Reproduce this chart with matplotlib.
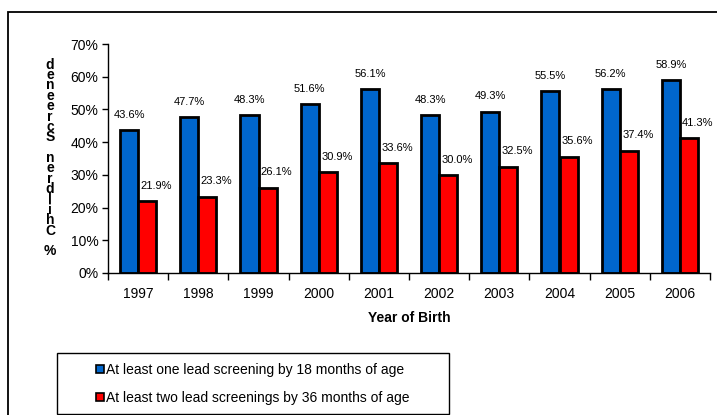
import numpy as np
import matplotlib.pyplot as plt
from matplotlib.patches import Rectangle
from matplotlib.lines import Line2D
from matplotlib.ticker import PercentFormatter

plt.rcParams['font.family'] = ['Liberation Sans', 'DejaVu Sans']

years = ['1997', '1998', '1999', '2000', '2001', '2002', '2003', '2004', '2005', '2006']
one_screen = [43.6, 47.7, 48.3, 51.6, 56.1, 48.3, 49.3, 55.5, 56.2, 58.9]
two_screen = [21.9, 23.3, 26.1, 30.9, 33.6, 30.0, 32.5, 35.6, 37.4, 41.3]
series_names = ['At least one lead screening by 18 months of age',
                'At least two lead screenings by 36 months of age']
blue = '#0066CC'
red = '#FF0000'

W, H = 717, 415
fig = plt.figure(figsize=(W / 100, H / 100), dpi=100)

# outer chart border (right/bottom run off the image)
fig.patches.append(Rectangle((8 / W, -0.05), 1.05, 1 - 12 / H + 0.05,
                             transform=fig.transFigure, fill=False,
                             edgecolor='black', linewidth=1.3))

ax = fig.add_axes([108 / W, 1 - 273 / H, (710 - 108) / W, (273 - 44) / H])
x = np.arange(len(years))
bw = 0.3
b1 = ax.bar(x - bw / 2, one_screen, bw, color=blue, edgecolor='black', linewidth=2)
b2 = ax.bar(x + bw / 2, two_screen, bw, color=red, edgecolor='black', linewidth=2)

for rect, v in zip(b1, one_screen):
    ax.annotate(f'{v:.1f}%', (rect.get_x() + rect.get_width() / 2, v),
                xytext=(0, 11), textcoords='offset points',
                ha='center', va='center', fontsize=8)
for rect, v in zip(b2, two_screen):
    ax.annotate(f'{v:.1f}%', (rect.get_x() + rect.get_width() / 2, v),
                xytext=(6.5, 11), textcoords='offset points',
                ha='center', va='center', fontsize=8)

ax.set_xlim(-0.5, len(years) - 0.5)
ax.set_ylim(0, 70)
ax.set_yticks(np.arange(0, 71, 10))
ax.yaxis.set_major_formatter(PercentFormatter(decimals=0))
ax.set_xticks(x)
ax.set_xticklabels(years)
ax.set_xticks(np.arange(-0.5, len(years)), minor=True)
ax.tick_params(axis='x', which='major', length=0, labelsize=10, pad=10)
ax.tick_params(axis='x', which='minor', length=5, width=1, direction='out')
ax.tick_params(axis='y', length=4, width=1, direction='out', labelsize=10, pad=3)
for s in ['top', 'right']:
    ax.spines[s].set_visible(False)
for s in ['left', 'bottom']:
    ax.spines[s].set_linewidth(1)
ax.set_xlabel('Year of Birth', fontsize=10, fontweight='bold', labelpad=7)

# stacked vertical y label, as in the original
ylabel = '% Children Screened'
fig.text(50 / W, 1 - 158 / H, '\n'.join(reversed(ylabel)), ha='center', va='center',
         fontsize=10, fontweight='bold', linespacing=0.67)

# legend with a square frame
fig.patches.append(Rectangle((57 / W, 1 - 414 / H), (449 - 57) / W, (414 - 353) / H,
                             transform=fig.transFigure, fill=False,
                             edgecolor='black', linewidth=1.0))
handles = [Line2D([], [], marker='s', linestyle='none', markersize=5.5,
                  markerfacecolor=c, markeredgecolor='black', markeredgewidth=1.2)
           for c in (blue, red)]
fig.legend(handles, series_names, loc='center',
           bbox_to_anchor=(253 / W, 1 - 384 / H), frameon=False, fontsize=10,
           handlelength=0.6, handletextpad=0.15, labelspacing=1.0)

fig.savefig('out.png', dpi=100)
